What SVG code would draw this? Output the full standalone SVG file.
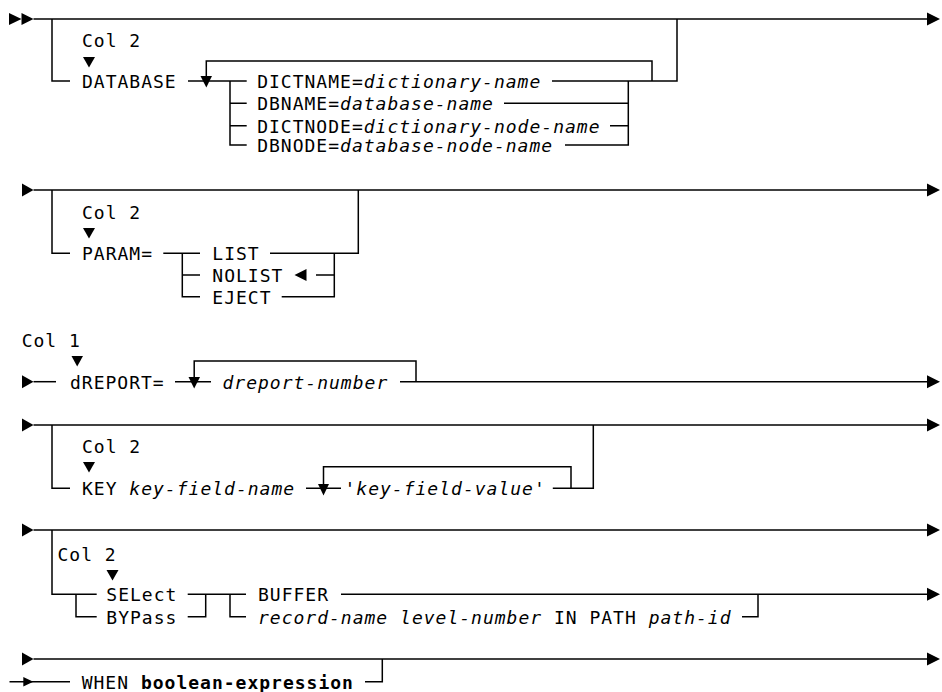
<svg xmlns="http://www.w3.org/2000/svg" width="942" height="692" viewBox="0 0 942 692">
  <style>
    .t { font-family: "DejaVu Sans Mono", "Liberation Mono", monospace; font-size: 18px; letter-spacing: 1px; fill: #000; }
    .i { font-style: italic; }
    .b { font-weight: bold; }
    .ln { stroke: #000; stroke-width: 1.5; fill: none; }
    .ah { fill: #000; }
  </style>
  <rect width="942" height="692" fill="#fff"/>

  <!-- rails, branches, loops and arrowheads -->
  <g id="connectors">
    <!-- statement 1: DATABASE -->
    <polygon class="ah" points="9,13 21.5,19 9,25"/>
    <polygon class="ah" points="21.5,13 33.5,19 21.5,25"/>
    <path class="ln" d="M33.5 19 H928"/>
    <polygon class="ah" points="927,12.5 940,19 927,25.5"/>
    <path class="ln" d="M52 19 V81 H70"/>
    <polygon class="ah" points="83,57 95,57 89,67.5"/>
    <path class="ln" d="M188 81 H246.7"/>
    <path class="ln" d="M206.3 76 V61 H652 V81"/>
    <polygon class="ah" points="200.5,76 212,76 206.3,87.5"/>
    <path class="ln" d="M230 81 V145 H246.7 M230 103.3 H246.7 M230 125.7 H246.7"/>
    <path class="ln" d="M552 81 H677 V19"/>
    <path class="ln" d="M628.3 81 V145 H565 M504 103.3 H628.3 M610 125.7 H628.3"/>

    <!-- statement 2: PARAM= -->
    <polygon class="ah" points="22,183.5 33.5,190 22,196.5"/>
    <path class="ln" d="M33.5 190 H928"/>
    <polygon class="ah" points="927,183.5 940,190 927,196.5"/>
    <path class="ln" d="M52 190 V253.3 H70"/>
    <polygon class="ah" points="83,228 95,228 89,238.5"/>
    <path class="ln" d="M163.3 253.3 H200 M182.3 253.3 V296.7 H200 M182.3 275 H200"/>
    <path class="ln" d="M270 253.3 H358.3 V190"/>
    <path class="ln" d="M334.3 253.3 V296.7 H281.7 M316 275 H334.3"/>
    <polygon class="ah" points="294.5,275 306.5,269 306.5,281"/>

    <!-- statement 3: dREPORT= -->
    <polygon class="ah" points="71.5,356 83,356 77.2,366.5"/>
    <polygon class="ah" points="22,375.2 33.5,381.7 22,388.2"/>
    <path class="ln" d="M33.5 381.7 H56"/>
    <path class="ln" d="M175 381.7 H211"/>
    <path class="ln" d="M194.2 377 V361 H416 V381.7"/>
    <polygon class="ah" points="188.5,377 200,377 194.2,388.5"/>
    <path class="ln" d="M400 381.7 H928"/>
    <polygon class="ah" points="927,375.2 940,381.7 927,388.2"/>

    <!-- statement 4: KEY -->
    <polygon class="ah" points="22,418.5 33.5,425 22,431.5"/>
    <path class="ln" d="M33.5 425 H928"/>
    <polygon class="ah" points="927,418.5 940,425 927,431.5"/>
    <path class="ln" d="M52 425 V488.3 H70"/>
    <polygon class="ah" points="83,462 95,462 89,472.5"/>
    <path class="ln" d="M306 488.3 H341"/>
    <path class="ln" d="M323.5 484 V466.7 H571 V488.3"/>
    <polygon class="ah" points="318,484 329,484 323.5,495.5"/>
    <path class="ln" d="M552.8 488.3 H593.3 V425"/>

    <!-- statement 5: SELect / BYPass -->
    <polygon class="ah" points="22,523.5 33.5,530 22,536.5"/>
    <path class="ln" d="M33.5 530 H928"/>
    <polygon class="ah" points="927,523.5 940,530 927,536.5"/>
    <path class="ln" d="M52 530 V594.3 H96.7 M76 594.3 V616.7 H96.7"/>
    <polygon class="ah" points="106.5,570 118.5,570 112.5,580.5"/>
    <path class="ln" d="M187.7 594.3 H246 M205.7 594.3 V616.7 H187.7 M230 594.3 V616.7 H246"/>
    <path class="ln" d="M341 594.3 H928"/>
    <polygon class="ah" points="927,587.8 940,594.3 927,600.8"/>
    <path class="ln" d="M742 616.7 H758 V594.3"/>

    <!-- statement 6: WHEN -->
    <polygon class="ah" points="22,652.5 33.5,659 22,665.5"/>
    <path class="ln" d="M33.5 659 H928"/>
    <polygon class="ah" points="927,652.5 940,659 927,665.5"/>
    <path class="ln" d="M9.5 681.7 H70"/>
    <polygon class="ah" points="23.3,677 33.3,681.7 23.3,686.4"/>
    <path class="ln" d="M365 681.7 H382.3 V659"/>
  </g>

  <!-- keywords and variables -->
  <g id="col-database"><text class="t" x="82" y="46.5">Col 2</text></g>
  <g id="database"><text class="t" x="82" y="87.8">DATABASE</text></g>
  <g id="dictname"><text class="t" x="257.2" y="88">DICTNAME=<tspan class="i">dictionary-name</tspan></text></g>
  <g id="dbname"><text class="t" x="257.2" y="110.3">DBNAME=<tspan class="i">database-name</tspan></text></g>
  <g id="dictnode"><text class="t" x="257.2" y="132.6">DICTNODE=<tspan class="i">dictionary-node-name</tspan></text></g>
  <g id="dbnode"><text class="t" x="257.2" y="152">DBNODE=<tspan class="i">database-node-name</tspan></text></g>

  <g id="col-param"><text class="t" x="82" y="218.5">Col 2</text></g>
  <g id="param"><text class="t" x="82" y="260">PARAM=</text></g>
  <g id="list"><text class="t" x="212.3" y="260">LIST</text></g>
  <g id="nolist"><text class="t" x="212.3" y="281.8">NOLIST</text></g>
  <g id="eject"><text class="t" x="212.3" y="303.5">EJECT</text></g>

  <g id="col-dreport"><text class="t" x="21.7" y="346.5">Col 1</text></g>
  <g id="dreport"><text class="t" x="70" y="388.5">dREPORT=</text></g>
  <g id="dreport-number"><text class="t i" x="222.5" y="388.5">dreport-number</text></g>

  <g id="col-key"><text class="t" x="82" y="453.3">Col 2</text></g>
  <g id="key"><text class="t" x="82" y="495">KEY <tspan class="i">key-field-name</tspan></text></g>
  <g id="key-value"><text class="t" x="344.5" y="495">'<tspan class="i">key-field-value</tspan>'</text></g>

  <g id="col-select"><text class="t" x="57.5" y="561">Col 2</text></g>
  <g id="select"><text class="t" x="106.3" y="601">SELect</text></g>
  <g id="bypass"><text class="t" x="106.3" y="623.5">BYPass</text></g>
  <g id="buffer"><text class="t" x="258" y="601">BUFFER</text></g>
  <g id="record-path"><text class="t" x="258" y="623.5"><tspan class="i">record-name level-number</tspan> IN PATH <tspan class="i">path-id</tspan></text></g>

  <g id="when"><text class="t" x="81.7" y="688.5">WHEN <tspan class="b">boolean-expression</tspan></text></g>
</svg>
